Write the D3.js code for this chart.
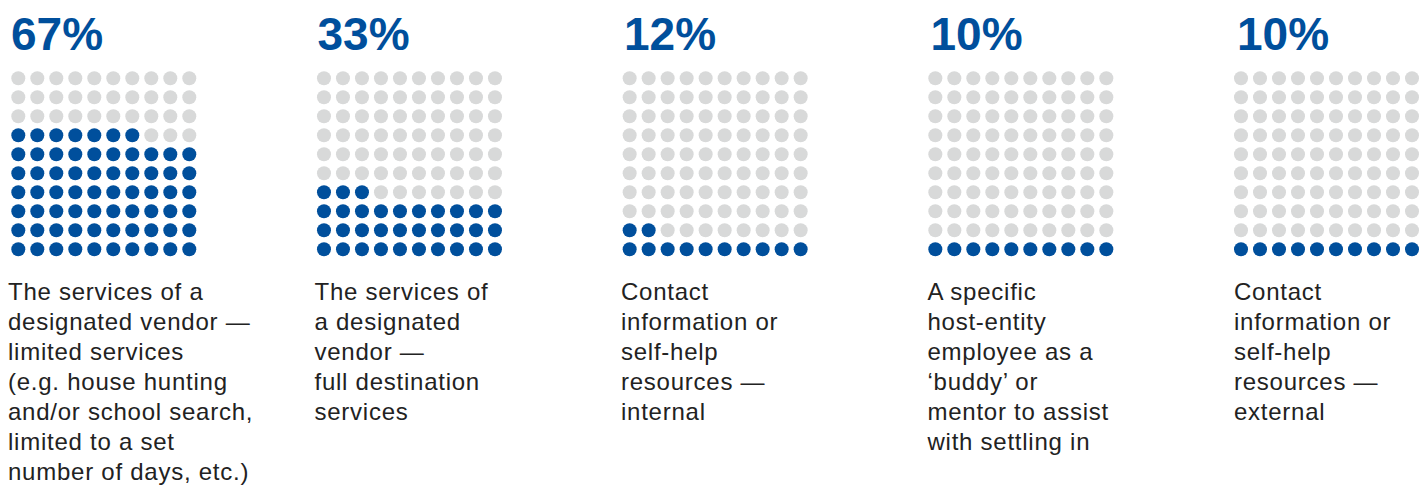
<!DOCTYPE html>
<html><head><meta charset="utf-8">
<script src="https://cdn.jsdelivr.net/npm/d3@7"></script>
<style>
html,body{margin:0;padding:0;background:#fff;}
svg{display:block;}
</style></head>
<body>
<svg id="chart" width="1419" height="485"></svg>
<script>
const categories = ["vendorLimited","vendorFull","internal","buddy","external"];
const percents = [67, 33, 12, 10, 10];
const labels = [
  ["The services of a","designated vendor —","limited services","(e.g. house hunting","and/or school search,","limited to a set","number of days, etc.)"],
  ["The services of","a designated","vendor —","full destination","services"],
  ["Contact","information or","self-help","resources —","internal"],
  ["A specific","host-entity","employee as a","‘buddy’ or","mentor to assist","with settling in"],
  ["Contact","information or","self-help","resources —","external"]
];

const blue = "#004f9c", gray = "#d8d9d9";
const svg = d3.select("#chart");

const dotX = d3.scalePoint().domain(categories).range([18.3, 1241]);
const textX = d3.scalePoint().domain(categories).range([8, 1234]);
const col = d3.scaleLinear().domain([0, 9]).range([0, 171]);
const row = d3.scaleLinear().domain([0, 9]).range([249.3, 78.3]); // row 0 = bottom
const cells = d3.range(100);

categories.forEach((c, k) => {
  svg.append("text")
    .attr("x", textX(c) + 3).attr("y", 50)
    .attr("font-family", "Liberation Sans, Arial, sans-serif")
    .attr("font-weight", "bold").attr("font-size", 46)
    .attr("fill", blue)
    .text(percents[k] + "%");
  svg.append("g").attr("transform", `translate(${dotX(c)},0)`)
    .selectAll("circle").data(cells).join("circle")
    .attr("cx", i => col(i % 10))
    .attr("cy", i => row(Math.floor(i / 10)))
    .attr("r", 7)
    .attr("fill", i => i < percents[k] ? blue : gray);
  const t = svg.append("text")
    .attr("font-family", "Liberation Sans, Arial, sans-serif")
    .attr("font-size", 24).attr("letter-spacing", 0.75).attr("fill", "#222");
  t.selectAll("tspan").data(labels[k]).join("tspan")
    .attr("x", textX(c)).attr("y", (d, j) => 299.5 + j * 30)
    .text(d => d);
});
</script>
</body></html>
